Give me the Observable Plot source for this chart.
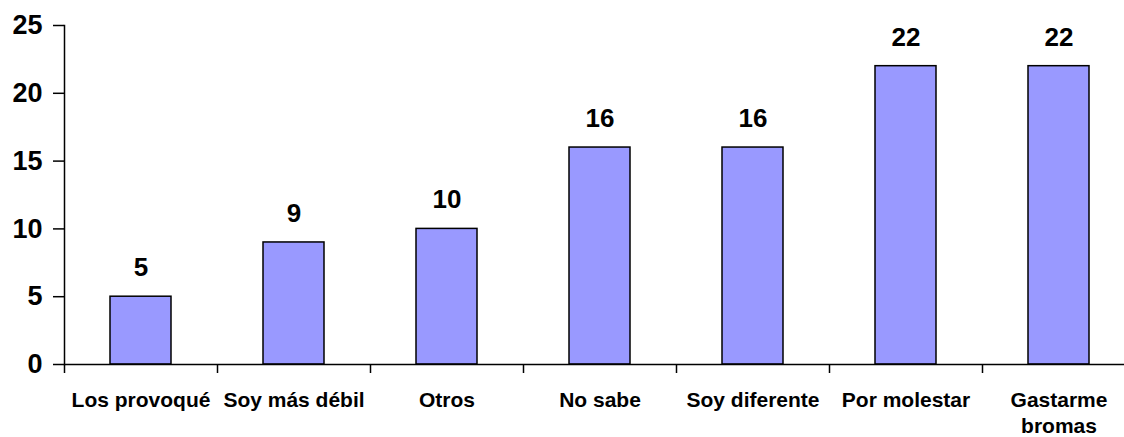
<!DOCTYPE html>
<html><head><meta charset="utf-8">
<script src="https://cdn.jsdelivr.net/npm/d3@7"></script>
<script src="https://cdn.jsdelivr.net/npm/@observablehq/plot@0.6"></script>
<style>html,body{margin:0;padding:0;background:#fff;overflow:hidden;width:1124px;height:437px}</style>
</head><body><div id="chart"></div>
<script>
const categories = ["Los provoqué","Soy más débil","Otros","No sabe","Soy diferente","Por molestar","Gastarme\nbromas"];
const values = [5, 9, 10, 16, 16, 22, 22];
const yTicks = [0, 5, 10, 15, 20, 25];

const data = categories.map((c, i) => ({category: c, value: values[i]}));
const W = 1135, ML = 64, MR = 0;
const step = (W - ML - MR) / categories.length;

const chart = Plot.plot({
  width: W, height: 437,
  marginTop: 25, marginBottom: 73, marginLeft: ML, marginRight: MR,
  style: {fontFamily: "'Liberation Sans', Arial, sans-serif", fontWeight: "bold", color: "#000", background: "#fff", maxWidth: "none"},
  x: {domain: categories, paddingInner: 0.6, paddingOuter: 0.3, label: null},
  y: {domain: [0, 25], label: null},
  marks: [
    Plot.barY(data, {x: "category", y: "value", fill: "#9999FF", stroke: "#000", strokeWidth: 1.5}),
    Plot.text(data, {x: "category", y: "value", text: d => String(d.value), dy: -29, fontSize: 26, fontWeight: "bold", fill: "#000"}),
    Plot.ruleY([0], {stroke: "#000", strokeWidth: 1.5}),
    Plot.frame({anchor: "left", stroke: "#000", strokeWidth: 1.5}),
    Plot.axisY({ticks: yTicks, tickSize: 11, tickPadding: 11, fontSize: 27, fontWeight: "bold", strokeWidth: 1.5, label: null}),
    Plot.axisX({tickSize: 9, tickFormat: () => "", dx: step / 2, strokeWidth: 1.5, label: null}),
    Plot.axisX([categories[0]], {tickSize: 9, tickFormat: () => "", dx: -step / 2, strokeWidth: 1.5, label: null}),
    Plot.axisX({tickSize: 0, tickPadding: 25, fontSize: 21, fontWeight: "bold", lineHeight: 1.2, label: null})
  ]
});
chart.style.maxWidth = "none";
document.getElementById("chart").appendChild(chart);
</script>
</body></html>
